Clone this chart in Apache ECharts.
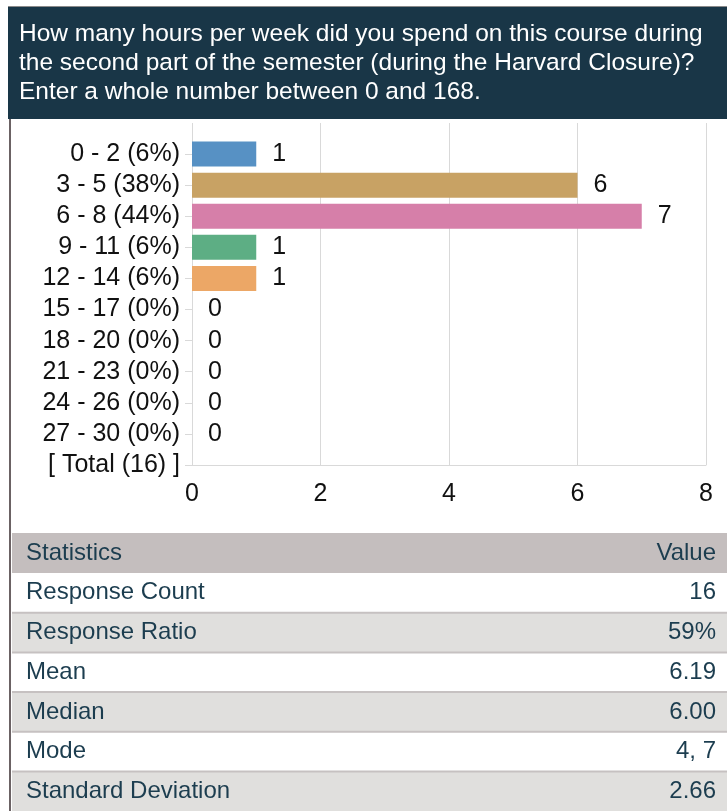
<!DOCTYPE html>
<html lang="en">
<head>
    <meta charset="UTF-8">
    <title>Hours per week</title>
    <script src="https://cdn.jsdelivr.net/npm/echarts@6/dist/echarts.min.js"></script>
</head>
<style>
    html, body {
        margin: 0;
        padding: 0;
        background-color: #FFFFFF;
    }
</style>
<body>
<div id="main" style="width: 727px;height: 811px;"></div>
<script>
    // data
    var question = 'How many hours per week did you spend on this course during\nthe second part of the semester (during the Harvard Closure)?\nEnter a whole number between 0 and 168.';
    var ranges = ['0 - 2', '3 - 5', '6 - 8', '9 - 11', '12 - 14', '15 - 17', '18 - 20', '21 - 23', '24 - 26', '27 - 30'];
    var percents = [6, 38, 44, 6, 6, 0, 0, 0, 0, 0];
    var counts = [1, 6, 7, 1, 1, 0, 0, 0, 0, 0];
    var total = 16;
    var barColors = ['#5791c4', '#c8a264', '#d67fa9', '#5dae84', '#eca766', '#5791c4', '#c8a264', '#d67fa9', '#5dae84', '#eca766'];
    var xTicks = [0, 2, 4, 6, 8];
    var statNames = ['Response Count', 'Response Ratio', 'Mean', 'Median', 'Mode', 'Standard Deviation'];
    var statValues = ['16', '59%', '6.19', '6.00', '4, 7', '2.66'];

    var font = '"Liberation Sans", Arial, sans-serif';
    var textColor = '#1c3d4f';
    var tableFont = '24px ' + font;

    // empty first slot so the bars sit between the grid top and the Total line
    var cats = [''];
    var barData = [null];
    for (var i = 0; i < ranges.length; i++) {
        cats.push(ranges[i] + ' (' + percents[i] + '%)');
        barData.push({value: counts[i], itemStyle: {color: barColors[i]}});
    }
    cats.push('[ Total (' + total + ') ]');
    barData.push(null);

    // header, left border and statistics table
    var graphics = [
        {type: 'rect', shape: {x: 8, y: 6, width: 719, height: 1}, style: {fill: '#8a8a8a'}, silent: true},
        {type: 'rect', shape: {x: 8, y: 7, width: 719, height: 112}, style: {fill: '#193647'}, silent: true},
        {type: 'rect', shape: {x: 9, y: 119, width: 2, height: 692}, style: {fill: '#6b6264'}, silent: true},
        {type: 'rect', shape: {x: 12, y: 533, width: 715, height: 40}, style: {fill: '#c4bebe'}, silent: true},
        {type: 'text', x: 26, y: 553, style: {text: 'Statistics', fill: textColor, font: tableFont, textVerticalAlign: 'middle'}, silent: true},
        {type: 'text', x: 716, y: 553, style: {text: 'Value', fill: textColor, font: tableFont, textAlign: 'right', textVerticalAlign: 'middle'}, silent: true}
    ];
    var rowH = 39.7;
    for (var r = 0; r < statNames.length; r++) {
        var rowTop = 573 + r * rowH;
        graphics.push({type: 'rect', shape: {x: 12, y: rowTop, width: 715, height: rowH}, style: {fill: r % 2 ? '#e0dfdd' : '#ffffff'}, silent: true});
        if (r > 0) {
            graphics.push({type: 'rect', shape: {x: 12, y: rowTop - 1, width: 715, height: 2}, style: {fill: '#c6c1c1'}, silent: true});
        }
        graphics.push({type: 'text', x: 26, y: rowTop + rowH / 2, style: {text: statNames[r], fill: textColor, font: tableFont, textVerticalAlign: 'middle'}, silent: true});
        graphics.push({type: 'text', x: 716, y: rowTop + rowH / 2, style: {text: statValues[r], fill: textColor, font: tableFont, textAlign: 'right', textVerticalAlign: 'middle'}, silent: true});
    }

    var myChart = echarts.init(document.getElementById('main'));
    var option = {
        backgroundColor: '#FFFFFF',
        animation: false,
        title: {
            text: question,
            left: 14,
            top: 15,
            textStyle: {
                color: '#FFFFFF',
                fontFamily: font,
                fontWeight: 'normal',
                fontSize: 24.5,
                lineHeight: 29
            }
        },
        grid: {
            left: 192,
            right: 21,
            top: 123,
            bottom: 346
        },
        xAxis: {
            type: 'value',
            min: xTicks[0],
            max: xTicks[xTicks.length - 1],
            interval: 2,
            axisLine: {show: true, lineStyle: {color: '#d9d9d9'}},
            axisTick: {show: false},
            splitLine: {show: true, lineStyle: {color: '#d9d9d9'}},
            axisLabel: {color: '#111', fontSize: 25, fontFamily: font, margin: 17}
        },
        yAxis: {
            type: 'category',
            inverse: true,
            boundaryGap: false,
            data: cats,
            axisLine: {show: false},
            axisTick: {
                show: true,
                length: 7,
                lineStyle: {color: '#d9d9d9'},
                interval: function (idx, val) { return val !== ''; }
            },
            axisLabel: {color: '#111', fontSize: 25, fontFamily: font, margin: 12, interval: 0}
        },
        series: [{
            type: 'bar',
            data: barData,
            barWidth: 25,
            label: {
                show: true,
                position: 'right',
                distance: 16,
                color: '#111',
                fontSize: 25,
                fontFamily: font
            }
        }],
        graphic: graphics
    };
    myChart.setOption(option);
</script>
</body>
</html>
